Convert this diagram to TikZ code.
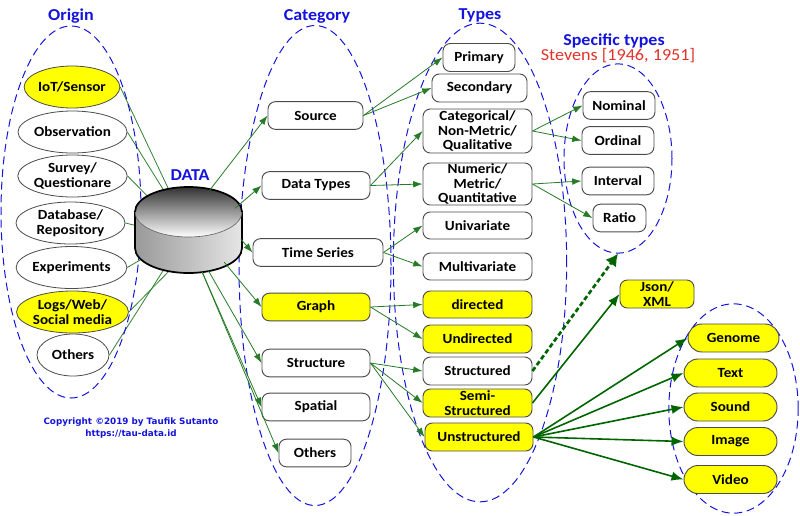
\documentclass[tikz,border=0pt]{standalone}
\usepackage{fontspec}
\setmainfont{Carlito}[FakeStretch=1.08]
\newfontfamily\copyfont{DejaVu Sans}
\usepackage{xcolor}
\usetikzlibrary{positioning,backgrounds,arrows.meta,shapes.geometric}
\definecolor{titleblue}{RGB}{20,20,220}
\definecolor{edgegreen}{RGB}{0,100,0}
\definecolor{nodeyellow}{RGB}{255,255,0}
\definecolor{refred}{RGB}{225,50,40}

\begin{document}
\begin{tikzpicture}[
	x=0.75pt, y=-0.75pt,
	% Vung bao net dut
	region/.style={ellipse, draw=titleblue, dashed, line width=0.75pt, dash pattern=on 6pt off 3.5pt, inner sep=0pt},
	% Tieu de
	headtxt/.style={font=\bfseries\fontsize{12.5}{13}\selectfont, text=titleblue, inner sep=0pt},
	% Node hinh elip
	onode/.style={ellipse, draw=black!70, line width=0.6pt, fill=white, inner sep=0pt, align=center,
		font=\bfseries\fontsize{10.5}{11}\selectfont},
	% Node bo goc
	bnode/.style={rectangle, rounded corners=5.5pt, draw=black!70, line width=0.7pt, fill=white, inner sep=0pt, align=center,
		font=\bfseries\fontsize{10.5}{11}\selectfont},
	ynode/.style={bnode, fill=nodeyellow},
	pnode/.style={bnode, fill=nodeyellow, rounded corners=10.5pt},
	% Mui ten
	thin arrow/.style={draw=edgegreen!85, line width=0.6pt, -{Latex[length=7pt,width=5pt]}},
	plain link/.style={draw=edgegreen!80, line width=0.6pt},
	bold arrow/.style={draw=edgegreen, line width=1.2pt, -{Latex[length=9pt,width=7pt]}},
	dot arrow/.style={draw=edgegreen, line width=2pt, dash pattern=on 3.5pt off 2pt, -{Latex[length=9pt,width=10pt]}}
	]
	\useasboundingbox (0,0) rectangle (800,515);

	% --- VUNG BAO ---
	\node[region, minimum width=105pt, minimum height=279pt] (origin) at (71,212) {};
	\node[region, minimum width=114pt, minimum height=360pt] (category) at (315,265.5) {};
	\node[region, minimum width=130pt, minimum height=359pt] (types) at (480,262.5) {};
	\node[region, minimum width=81pt, minimum height=142pt] (specific) at (618,158.5) {};
	\node[region, minimum width=97pt, minimum height=157pt] (media) at (733.5,408.5) {};

	% --- TIEU DE ---
	\node[headtxt] (origintitle) at (71,16) {Origin};
	\node[headtxt] (cattitle) at (317,16) {Category};
	\node[headtxt] (typetitle) at (480,15) {Types};
	\node[headtxt] (datatitle) at (190,175) {DATA};
	\node[headtxt, anchor=base] (spectitle) at (614,45) {Specific types};
	\node[font=\fontsize{12.6}{13}\selectfont, text=refred, inner sep=0pt, anchor=base] (stevens) at (618,60) {Stevens [1946, 1951]};
	\node[font=\copyfont\bfseries\fontsize{6.6}{9}\selectfont, text=titleblue, align=center] (copyright) at (131,428)
		{Copyright ©2019 by Taufik Sutanto\\https://tau-data.id};

	% --- ORIGIN ---
	\foreach \name/\x/\y/\w/\fillc/\txt in {
		iot/72/87/94/nodeyellow/{IoT/Sensor},
		obs/72.5/132/109/white/{Observation},
		survey/72.5/176/109/white/{Survey/\\Questionare},
		repo/70.5/223/109/white/{Database/\\Repository},
		expe/71.5/267.5/109/white/{Experiments},
		logs/72.5/312/109/nodeyellow/{Logs/Web/\\Social media},
		oriother/73/355/72/white/{Others}} {
		\node[onode, fill=\fillc, minimum width=\w*0.75pt, minimum height=31.5pt] (\name) at (\x,\y) {\txt};
	}

	% --- DATA ---
	\node[ellipse, minimum width=80pt, minimum height=64.5pt, inner sep=0pt] (data) at (188.5,230) {};
	\shade[left color=black!40, middle color=black!16, right color=black!10, draw=black, line width=1.3pt]
		(135,212) -- (135,248) arc[x radius=53.5, y radius=-25, start angle=180, end angle=360] -- (242,212) -- cycle;
	\shade[top color=black!80, bottom color=white, draw=black!60, line width=0.5pt]
		(188.5,212) ellipse[x radius=53.5, y radius=25];
	\draw[black, line width=1.3pt] (135,212) arc[x radius=53.5, y radius=-25, start angle=180, end angle=0];

	% --- CATEGORY ---
	\foreach \name/\x/\y/\w/\sty/\txt in {
		source/315.5/115.5/95/bnode/{Source},
		dtypes/316/185.5/108/bnode/{Data Types},
		tseries/318/252.5/130/bnode/{Time Series},
		graph/316/307/108/ynode/{Graph},
		struct/316/363/108/bnode/{Structure},
		spatial/316/407/108/bnode/{Spatial},
		catother/315/453/72/bnode/{Others}} {
		\node[\sty, minimum width=\w*0.75pt, minimum height=20.7pt] (\name) at (\x,\y) {\txt};
	}

	% --- TYPES ---
	\foreach \name/\x/\y/\w/\h/\sty/\txt in {
		primary/479/57.5/72/28/bnode/{Primary},
		secondary/479.5/88/95/28/bnode/{Secondary},
		categ/477.5/131/109/44/bnode/{Categorical/\\Non-Metric/\\Qualitative},
		numer/477.5/184/109/42/bnode/{Numeric/\\Metric/\\Quantitative},
		univ/477.5/225.5/109/27/bnode/{Univariate},
		multi/477.5/266.5/109/27/bnode/{Multivariate},
		direct/477.5/304.5/109/27/ynode/{directed},
		undirect/477.5/339/109/28/ynode/{Undirected},
		structd/477.5/371/109/28/bnode/{Structured},
		semi/477.5/403/109/28/ynode/{Semi-\\Structured},
		unstruct/479/437/108/28/ynode/{Unstructured}} {
		\node[\sty, minimum width=\w*0.75pt, minimum height=\h*0.75pt] (\name) at (\x,\y) {\txt};
	}

	% --- SPECIFIC TYPES ---
	\foreach \name/\x/\y/\w/\txt in {
		nominal/619/105.5/72/{Nominal},
		ordinal/618/140.5/72/{Ordinal},
		interval/618/181/72/{Interval},
		ratio/619.5/218/53/{Ratio}} {
		\node[bnode, minimum width=\w*0.75pt, minimum height=20.7pt] (\name) at (\x,\y) {\txt};
	}

	% --- JSON VA MEDIA ---
	\node[ynode, minimum width=55.5pt, minimum height=21pt] (json) at (657,294) {Json/\\XML};
	\foreach \name/\x/\y/\w/\txt in {
		genome/733.5/338/91/{Genome},
		text/730.5/373/93/{Text},
		sound/730.5/407/93/{Sound},
		image/730.5/441.5/93/{Image},
		video/730.5/479.5/93/{Video}} {
		\node[pnode, minimum width=\w*0.75pt, minimum height=21pt] (\name) at (\x,\y) {\txt};
	}

	% --- MUI TEN ---
	\begin{pgfonlayer}{background}
		\foreach \a/\ang in {iot/116, obs/122, survey/141, repo/175, expe/212, logs/245, oriother/238} {
			\draw[plain link] (\a.east) -- (data.\ang);
		}
	\end{pgfonlayer}

	\foreach \a/\b in {source/primary, source/secondary, dtypes/categ, dtypes/numer,
		tseries/univ, tseries/multi, graph/direct, graph/undirect,
		struct/structd, struct/semi, struct/unstruct,
		categ/nominal, categ/ordinal, numer/interval, numer/ratio} {
		\draw[thin arrow] (\a.east) -- (\b.west);
	}
	\draw[thin arrow] (data.62) -- (source.west);
	\draw[thin arrow] (data.25) -- (dtypes.west);
	\draw[thin arrow] (data.350) -- (tseries.west);
	\draw[thin arrow] (data.318) -- (graph.west);
	\draw[thin arrow] (data.296) -- (struct.west);
	\draw[thin arrow] (data.288) -- (spatial.west);
	\draw[thin arrow] (data.288) -- (catother.west);

	\draw[dot arrow] (structd.east) -- (specific.south);
	\draw[bold arrow] (semi.east) -- (json.west);
	\foreach \b in {genome, text, sound, image, video} {
		\draw[bold arrow] (unstruct.east) -- (\b.west);
	}
\end{tikzpicture}
\end{document}
